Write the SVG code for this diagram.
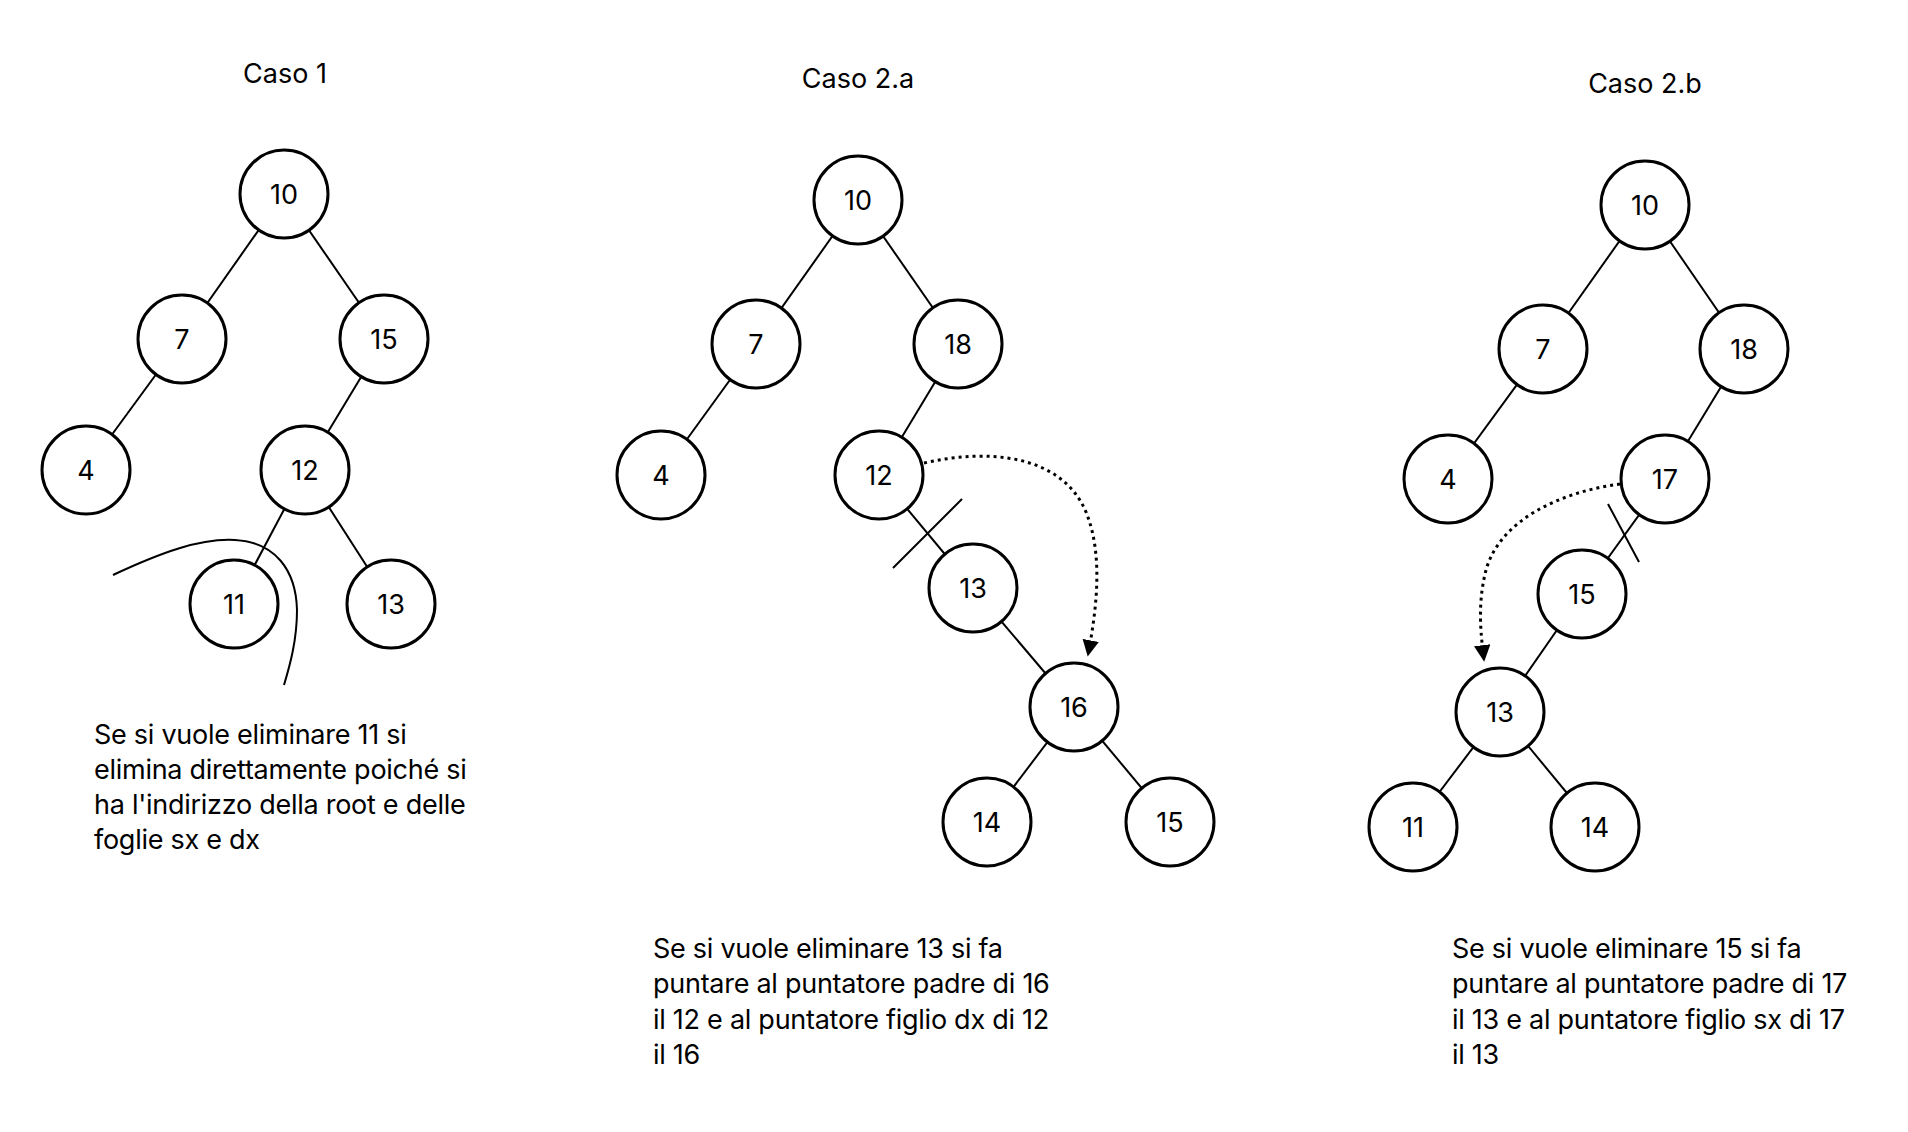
<svg xmlns="http://www.w3.org/2000/svg" width="1908" height="1132" viewBox="0 0 1908 1132">
<defs>
<style>
.n circle{fill:#fff;stroke:#000;stroke-width:3}
.n text{font-family:Inter,"Liberation Sans",sans-serif;font-size:27px;text-anchor:middle;dominant-baseline:central;fill:#000}
.e line{stroke:#000;stroke-width:2}
.t{font-family:Inter,"Liberation Sans",sans-serif;font-size:27px;letter-spacing:-0.27px;fill:#000}
.h{font-family:Inter,"Liberation Sans",sans-serif;font-size:27px;fill:#000;text-anchor:middle}
.dot{fill:none;stroke:#000;stroke-width:3;stroke-dasharray:3 4}
</style>
<marker id="ah" viewBox="0 0 10 10" refX="9" refY="5" markerWidth="5.5" markerHeight="5.5" orient="auto" markerUnits="strokeWidth">
<path d="M0,0 L10,5 L0,10 z" fill="#000"/>
</marker>
</defs>
<rect width="1908" height="1132" fill="#fff"/>

<text class="h" x="285" y="83">Caso 1</text>
<text class="h" x="858" y="88">Caso 2.a</text>
<text class="h" x="1645" y="93">Caso 2.b</text>

<g id="connectors" class="e">
<line x1="284" y1="194" x2="182" y2="339"/>
<line x1="284" y1="194" x2="384" y2="339"/>
<line x1="182" y1="339" x2="86" y2="470"/>
<line x1="384" y1="339" x2="305" y2="470"/>
<line x1="305" y1="470" x2="234" y2="604"/>
<line x1="305" y1="470" x2="391" y2="604"/>

<line x1="858" y1="200" x2="756" y2="344"/>
<line x1="858" y1="200" x2="958" y2="344"/>
<line x1="756" y1="344" x2="661" y2="475"/>
<line x1="958" y1="344" x2="879" y2="475"/>
<line x1="879" y1="475" x2="973" y2="588"/>
<line x1="973" y1="588" x2="1074" y2="707"/>
<line x1="1074" y1="707" x2="987" y2="822"/>
<line x1="1074" y1="707" x2="1170" y2="822"/>
<line x1="893" y1="568" x2="962" y2="499"/>
<path class="dot" d="M924,463 C990,448 1062,455 1086,512 C1104,556 1096,612 1088,655" marker-end="url(#ah)"/>

<line x1="1645" y1="205" x2="1543" y2="349"/>
<line x1="1645" y1="205" x2="1744" y2="349"/>
<line x1="1543" y1="349" x2="1448" y2="479"/>
<line x1="1744" y1="349" x2="1665" y2="479"/>
<line x1="1665" y1="479" x2="1582" y2="594"/>
<line x1="1582" y1="594" x2="1500" y2="712"/>
<line x1="1500" y1="712" x2="1413" y2="827"/>
<line x1="1500" y1="712" x2="1595" y2="827"/>
<line x1="1608" y1="504" x2="1639" y2="562"/>
<path class="dot" d="M1620,484 C1560,492 1500,520 1486,570 C1477,605 1481,635 1484,660" marker-end="url(#ah)"/>

<path d="M113,575 C160,553 200,538 235,540 C275,542 296,570 297,610 C297,640 290,665 284,685" fill="none" stroke="#000" stroke-width="2"/>
</g>

<g id="c1-n10" class="n"><circle cx="284" cy="194" r="44"/><text x="284" y="194">10</text></g>
<g id="c1-n7" class="n"><circle cx="182" cy="339" r="44"/><text x="182" y="339">7</text></g>
<g id="c1-n15" class="n"><circle cx="384" cy="339" r="44"/><text x="384" y="339">15</text></g>
<g id="c1-n4" class="n"><circle cx="86" cy="470" r="44"/><text x="86" y="470">4</text></g>
<g id="c1-n12" class="n"><circle cx="305" cy="470" r="44"/><text x="305" y="470">12</text></g>
<g id="c1-n11" class="n"><circle cx="234" cy="604" r="44"/><text x="234" y="604">11</text></g>
<g id="c1-n13" class="n"><circle cx="391" cy="604" r="44"/><text x="391" y="604">13</text></g>

<g id="c2a-n10" class="n"><circle cx="858" cy="200" r="44"/><text x="858" y="200">10</text></g>
<g id="c2a-n7" class="n"><circle cx="756" cy="344" r="44"/><text x="756" y="344">7</text></g>
<g id="c2a-n18" class="n"><circle cx="958" cy="344" r="44"/><text x="958" y="344">18</text></g>
<g id="c2a-n4" class="n"><circle cx="661" cy="475" r="44"/><text x="661" y="475">4</text></g>
<g id="c2a-n12" class="n"><circle cx="879" cy="475" r="44"/><text x="879" y="475">12</text></g>
<g id="c2a-n13" class="n"><circle cx="973" cy="588" r="44"/><text x="973" y="588">13</text></g>
<g id="c2a-n16" class="n"><circle cx="1074" cy="707" r="44"/><text x="1074" y="707">16</text></g>
<g id="c2a-n14" class="n"><circle cx="987" cy="822" r="44"/><text x="987" y="822">14</text></g>
<g id="c2a-n15" class="n"><circle cx="1170" cy="822" r="44"/><text x="1170" y="822">15</text></g>

<g id="c2b-n10" class="n"><circle cx="1645" cy="205" r="44"/><text x="1645" y="205">10</text></g>
<g id="c2b-n7" class="n"><circle cx="1543" cy="349" r="44"/><text x="1543" y="349">7</text></g>
<g id="c2b-n18" class="n"><circle cx="1744" cy="349" r="44"/><text x="1744" y="349">18</text></g>
<g id="c2b-n4" class="n"><circle cx="1448" cy="479" r="44"/><text x="1448" y="479">4</text></g>
<g id="c2b-n17" class="n"><circle cx="1665" cy="479" r="44"/><text x="1665" y="479">17</text></g>
<g id="c2b-n15" class="n"><circle cx="1582" cy="594" r="44"/><text x="1582" y="594">15</text></g>
<g id="c2b-n13" class="n"><circle cx="1500" cy="712" r="44"/><text x="1500" y="712">13</text></g>
<g id="c2b-n11" class="n"><circle cx="1413" cy="827" r="44"/><text x="1413" y="827">11</text></g>
<g id="c2b-n14" class="n"><circle cx="1595" cy="827" r="44"/><text x="1595" y="827">14</text></g>

<text class="t" x="94" y="744">Se si vuole eliminare 11 si</text>
<text class="t" x="94" y="779">elimina direttamente poiché si</text>
<text class="t" x="94" y="814">ha l'indirizzo della root e delle</text>
<text class="t" x="94" y="849">foglie sx e dx</text>

<text class="t" x="653" y="958">Se si vuole eliminare 13 si fa</text>
<text class="t" x="653" y="993">puntare al puntatore padre di 16</text>
<text class="t" x="653" y="1029">il 12 e al puntatore figlio dx di 12</text>
<text class="t" x="653" y="1064">il 16</text>

<text class="t" x="1452" y="958">Se si vuole eliminare 15 si fa</text>
<text class="t" x="1452" y="993">puntare al puntatore padre di 17</text>
<text class="t" x="1452" y="1029">il 13 e al puntatore figlio sx di 17</text>
<text class="t" x="1452" y="1064">il 13</text>
</svg>
